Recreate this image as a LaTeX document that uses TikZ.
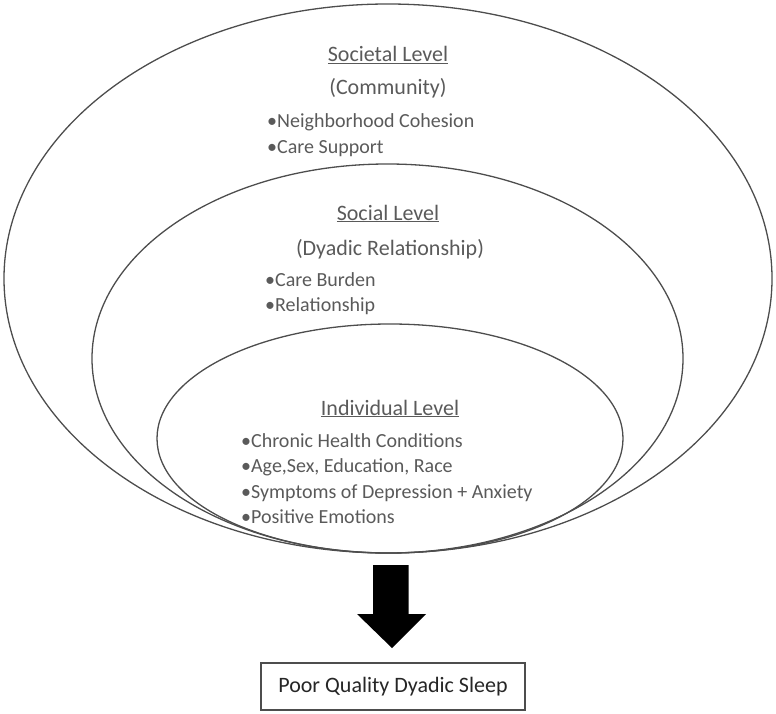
\documentclass[tikz,border=0pt]{standalone}
\usepackage{fontspec}
\setmainfont{Carlito}
\usepackage{xcolor}
\usetikzlibrary{arrows.meta,positioning,shapes.geometric}
\definecolor{ringgray}{HTML}{4D4D4D}
\definecolor{txtgray}{HTML}{5A5A5A}

\begin{document}
\begin{tikzpicture}[
   x=1pt, y=-1pt,
   ring/.style={draw=ringgray, ellipse, line width=1.3pt, inner sep=0pt, outer sep=0pt},
   lvl/.style={font=\fontsize{22}{26}\selectfont, text=txtgray, inner sep=0pt, anchor=base},
   item/.style={font=\fontsize{20}{24}\selectfont, text=txtgray, inner sep=0pt, anchor=base west},
   outcome/.style={draw=ringgray, line width=1.3pt, minimum width=264pt, minimum height=47pt,
      inner sep=0pt, font=\fontsize{22}{26}\selectfont, text=black!85}
]
\useasboundingbox (0,0) rectangle (776,714);

% nested levels
\node[ring, minimum width=768pt, minimum height=549pt] (societal) at (388,278.5) {};
\node[ring, minimum width=591pt, minimum height=389pt] (social) at (387.5,358.5) {};
\node[ring, minimum width=466pt, minimum height=229pt] (individual) at (390,438.5) {};

% societal level
\node[lvl] (socT) at (388,62) {\underline{Societal Level}};
\node[lvl] (socS) at (388,95) {(Community)};
\node[item] (socA) at (267,127.5) {•Neighborhood Cohesion};
\node[item] (socB) at (267,153.5) {•Care Support};

% social level
\node[lvl] (dyaT) at (388,220) {\underline{Social Level}};
\node[lvl] (dyaS) at (390,255) {(Dyadic Relationship)};
\node[item] (dyaA) at (265,286.5) {•Care Burden};
\node[item] (dyaB) at (265,311.5) {•Relationship};

% individual level
\node[lvl] (indT) at (390,415) {\underline{Individual Level}};
\node[item] (indA) at (241,447.5) {•Chronic Health Conditions};
\node[item] (indB) at (241,472.5) {•Age,Sex, Education, Race};
\node[item] (indC) at (241,498.5) {•Symptoms of Depression + Anxiety};
\node[item] (indD) at (241,523.5) {•Positive Emotions};

% outcome
\node[outcome] (sleep) at (393,686.5) {Poor Quality Dyadic Sleep};
\fill[black] (373,565) -- (408.5,565) -- (408.5,614) -- (426,614) -- (392,648)
   -- (357,614) -- (373,614) -- cycle;
\end{tikzpicture}
\end{document}
